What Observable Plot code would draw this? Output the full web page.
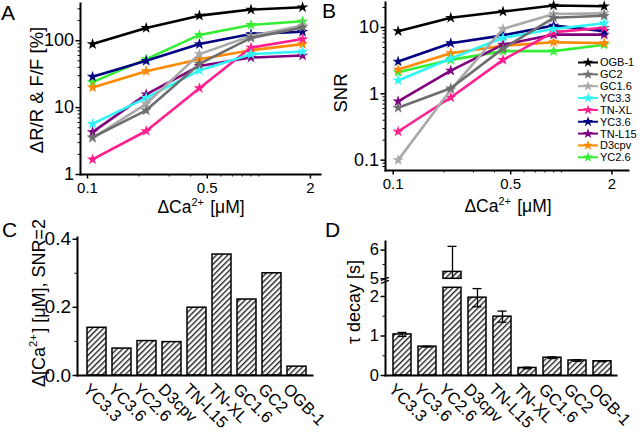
<!DOCTYPE html>
<html><head><meta charset="utf-8">
<script src="https://cdn.jsdelivr.net/npm/d3@7"></script>
<script src="https://cdn.jsdelivr.net/npm/@observablehq/plot@0.6"></script>
<style>
html,body{margin:0;padding:0;background:#fff;}
#fig{position:relative;width:640px;height:432px;overflow:hidden;background:#fff;}
</style></head>
<body>
<svg width="0" height="0" style="position:absolute">
<defs><pattern id="hatch" patternUnits="userSpaceOnUse" width="4" height="4" patternTransform="rotate(45)">
<rect width="4" height="4" fill="#fff"/><line x1="0.7" y1="0" x2="0.7" y2="4" stroke="#111" stroke-width="1.3"/></pattern></defs></svg>
<div id="fig"></div>
<script>
const FONT = "'Liberation Sans', Arial, sans-serif";

// ---------- data ----------
const concentration = [0.107, 0.22, 0.45, 0.9, 1.8];
const indicators = ["OGB-1","GC2","GC1.6","YC3.3","TN-XL","YC3.6","TN-L15","D3cpv","YC2.6"];
const indicatorColors = ["#000000","#6e6e6e","#a9a9a9","#30f4f4","#ff1f8f","#000080","#800080","#ff8a00","#33ee33"];

// Panel A: ΔR/R & F/F [%]
const respOGB1  = [89, 155, 237, 292, 316];
const respGC2   = [3.6, 9.1, 45, 110, 158];
const respGC16  = [3.5, 11.4, 63, 118, 168];
const respYC33  = [5.7, 14, 36, 63, 69];
const respTNXL  = [1.68, 4.47, 19.5, 79, 106];
const respYC36  = [29, 50, 89, 126, 136];
const respTNL15 = [4.3, 15.8, 42, 56, 60];
const respD3cpv = [20, 35, 53, 72, 89];
const respYC26  = [24, 53, 122, 172, 195];

// Panel B: SNR
const snrOGB1  = [8.8, 14, 17.4, 21.4, 20.9];
const snrGC2   = [0.615, 1.21, 4.8, 14, 15];
const snrGC16  = [0.1, 1.15, 9.5, 16, 16.3];
const snrYC33  = [1.59, 3.4, 7.0, 9.5, 11.6];
const snrTNXL  = [0.27, 0.88, 3.25, 8.5, 9.9];
const snrYC36  = [3.07, 5.8, 7.6, 10.7, 8.8];
const snrTNL15 = [0.77, 2.24, 5.5, 7.8, 7.8];
const snrD3cpv = [2.32, 4.1, 5.3, 6.0, 5.8];
const snrYC26  = [2.12, 3.25, 4.4, 4.4, 5.5];

// Panels C and D
const barOrder = ["YC3.3","YC3.6","YC2.6","D3cpv","TN-L15","TN-XL","GC1.6","GC2","OGB-1"];
const detectCa = [0.14, 0.079, 0.101, 0.098, 0.199, 0.355, 0.223, 0.30, 0.026];
const tauDecay = [1.04, 0.73, 5.24, 1.97, 1.49, 0.19, 0.45, 0.38, 0.36];
const tauErr   = [0.05, 0.01, 0.89, 0.23, 0.14, 0.02, 0.02, 0.02, 0.01];

// ticks
const xTicksMajor = [0.1, 0.5, 2];
const xTicksMinor = [0.2, 0.3, 0.4, 0.6, 0.7, 0.8, 0.9, 1];
const yTicksA = [1, 10, 100];
const yMinorA = [2,3,4,5,6,7,8,9,20,30,40,50,60,70,80,90,200,300];
const yTicksB = [0.1, 1, 10];
const yMinorB = [0.08,0.09,0.2,0.3,0.4,0.5,0.6,0.7,0.8,0.9,2,3,4,5,6,7,8,9,20];
const yTicksC = [0, 0.2, 0.4];
const yMinorC = [0.1, 0.3];
const yTicksD = [0, 1, 2, 5, 6];
const yMinorD = [0.5, 1.5, 5.5];
const breakLow = 2.22, breakHigh = 5;

const responseSeries = [respOGB1, respGC2, respGC16, respYC33, respTNXL, respYC36, respTNL15, respD3cpv, respYC26];
const snrSeries = [snrOGB1, snrGC2, snrGC16, snrYC33, snrTNXL, snrYC36, snrTNL15, snrD3cpv, snrYC26];

// ---------- helpers ----------
function seriesMarks(arrays) {
  const marks = [];
  for (let i = indicators.length - 1; i >= 0; i--) {
    const rows = concentration.map((c, j) => ({name: indicators[i], x: c, y: arrays[i][j]}));
    marks.push(Plot.line(rows, {x: "x", y: "y", stroke: indicatorColors[i], strokeWidth: 2.6}));
    marks.push(Plot.dot(rows, {x: "x", y: "y", symbol: "star", fill: indicatorColors[i], r: 3.6}));
  }
  return marks;
}
const fmt = d => String(d);
const blank = () => "";

function place(svg, left, top) {
  svg.style.position = "absolute";
  svg.style.left = left + "px";
  svg.style.top = top + "px";
  svg.style.overflow = "visible";
  svg.style.background = "transparent";
  document.getElementById("fig").appendChild(svg);
}
function addText(svg, {x, y, size, rotate = 0, anchor = "middle", parts}) {
  const g = d3.select(svg).append("g").attr("transform", `translate(${x},${y}) rotate(${rotate})`);
  const t = g.append("text").attr("text-anchor", anchor).attr("font-size", size)
    .attr("font-family", FONT).attr("fill", "black");
  for (const p of parts) {
    if (typeof p === "string") t.append("tspan").text(p);
    else {
      t.append("tspan").attr("dy", -size * 0.42).attr("font-size", size * 0.62).text(p.sup);
      t.append("tspan").attr("dy", size * 0.42).text("\u200A");
    }
  }
  return t;
}
const baseStyle = {fontFamily: FONT, background: "transparent", color: "black", overflow: "visible"};

// ---------- Panel A ----------
const chartA = Plot.plot({
  width: 320, height: 216, marginLeft: 80, marginTop: 3, marginRight: 0, marginBottom: 42,
  style: baseStyle,
  x: {type: "log", domain: [0.091, 2.29]},
  y: {type: "log", domain: [1, 360]},
  marks: [
    Plot.axisY({ticks: yMinorA, tickSize: 2.5, tickFormat: blank, label: null}),
    Plot.axisY({ticks: yTicksA, tickSize: 4.5, tickPadding: 2, tickFormat: fmt, fontSize: 18, label: null, strokeWidth: 1.5}),
    Plot.axisX({ticks: xTicksMinor, tickSize: 2.5, tickFormat: blank, label: null}),
    Plot.axisX({ticks: xTicksMajor, tickSize: 4.5, tickPadding: 3, tickFormat: fmt, fontSize: 15, label: null, strokeWidth: 1.5}),
    Plot.frame({anchor: "left", strokeWidth: 2}),
    Plot.frame({anchor: "bottom", strokeWidth: 2}),
    ...seriesMarks(responseSeries)
  ]
});
place(chartA, 0, 0);
addText(chartA, {x: 1, y: 20, size: 21, anchor: "start", parts: ["A"]});
addText(chartA, {x: 43, y: 90, size: 18.5, rotate: -90, parts: ["ΔR/R & F/F [%]"]});
addText(chartA, {x: 201, y: 213, size: 17.5, parts: ["ΔCa", {sup: "2+"}, " [μM]"]});

// ---------- Panel B ----------
const chartB = Plot.plot({
  width: 320, height: 216, marginLeft: 65, marginTop: 2, marginRight: 12, marginBottom: 46,
  style: baseStyle,
  x: {type: "log", domain: [0.09, 2.51]},
  y: {type: "log", domain: [0.0698, 23.8]},
  marks: [
    Plot.axisY({ticks: yMinorB, tickSize: 2.5, tickFormat: blank, label: null}),
    Plot.axisY({ticks: yTicksB, tickSize: 4.5, tickPadding: 2, tickFormat: fmt, fontSize: 18, label: null, strokeWidth: 1.5}),
    Plot.axisX({ticks: xTicksMinor, tickSize: 2.5, tickFormat: blank, label: null}),
    Plot.axisX({ticks: xTicksMajor, tickSize: 4.5, tickPadding: 3, tickFormat: fmt, fontSize: 15, label: null, strokeWidth: 1.5}),
    Plot.frame({anchor: "left", strokeWidth: 2}),
    Plot.frame({anchor: "bottom", strokeWidth: 2}),
    ...seriesMarks(snrSeries)
  ]
});
place(chartB, 320, 0);
addText(chartB, {x: 2, y: 18, size: 21, anchor: "start", parts: ["B"]});
addText(chartB, {x: 27, y: 93, size: 18.5, rotate: -90, parts: ["SNR"]});
addText(chartB, {x: 188, y: 212, size: 17.5, parts: ["ΔCa", {sup: "2+"}, " [μM]"]});
{
  const g = d3.select(chartB).append("g").attr("font-family", FONT);
  indicators.forEach((name, i) => {
    const y = 62.5 + i * 11.85;
    g.append("line").attr("x1", 258).attr("x2", 278).attr("y1", y).attr("y2", y)
      .attr("stroke", indicatorColors[i]).attr("stroke-width", 2);
    g.append("path").attr("d", d3.symbol(d3.symbolStar, 34)()).attr("transform", `translate(268,${y})`)
      .attr("fill", indicatorColors[i]);
    g.append("text").attr("x", 280).attr("y", y).attr("dy", "0.36em").attr("text-anchor", "start")
      .attr("font-size", 11).text(name);
  });
}

// ---------- Panel C ----------
const rowsC = barOrder.map((k, i) => ({k, v: detectCa[i]}));
const chartC = Plot.plot({
  width: 320, height: 216, marginLeft: 77, marginTop: 21, marginRight: 8, marginBottom: 57,
  style: baseStyle,
  x: {type: "band", domain: barOrder, paddingInner: 0.26, paddingOuter: 0.13, insetLeft: 3},
  y: {domain: [0, 0.405]},
  marks: [
    Plot.barY(rowsC, {x: "k", y: "v", fill: "url(#hatch)", stroke: "black", strokeWidth: 1.5}),
    Plot.axisY({ticks: yMinorC, tickSize: 2.5, tickFormat: blank, label: null}),
    Plot.axisY({ticks: yTicksC, tickSize: 4.5, tickPadding: 2, tickFormat: d => d.toFixed(1), fontSize: 19, label: null, strokeWidth: 1.5}),
    Plot.axisX({tickSize: 0, tickRotate: 45, tickPadding: 11, dx: -11, fontSize: 16.5, label: null}),
    Plot.frame({anchor: "left", strokeWidth: 2}),
    Plot.frame({anchor: "bottom", strokeWidth: 2})
  ]
});
place(chartC, 0, 216);
addText(chartC, {x: 2, y: 21, size: 21, anchor: "start", parts: ["C"]});
addText(chartC, {x: 45, y: 87, size: 18, rotate: -90, parts: ["Δ[Ca", {sup: "2+"}, "] [μM], SNR=2"]});

// ---------- Panel D ----------
const rowsD = barOrder.flatMap((k, i) => tauDecay[i] > breakLow
  ? [{k, y1: 0, y2: breakLow}, {k, y1: breakHigh, y2: tauDecay[i]}]
  : [{k, y1: 0, y2: tauDecay[i]}]);
const errD = barOrder.map((k, i) => ({
  k, v: tauDecay[i], hi: tauDecay[i] + tauErr[i],
  lo: tauDecay[i] > breakLow ? Math.max(tauDecay[i] - tauErr[i], breakHigh) : tauDecay[i] - tauErr[i]
}));
const chartD = Plot.plot({
  width: 320, height: 216, marginLeft: 65, marginTop: 25, marginRight: 24, marginBottom: 57,
  style: baseStyle,
  x: {type: "band", domain: barOrder, paddingInner: 0.27, paddingOuter: 0.135, insetLeft: 4},
  y: {type: "linear", domain: [0, breakLow, breakHigh, 6.3], range: [159, 71.3, 62.3, 25]},
  marks: [
    Plot.barY(rowsD, {x: "k", y1: "y1", y2: "y2", fill: "url(#hatch)", stroke: "black", strokeWidth: 1.5}),
    Plot.ruleX(errD, {x: "k", y1: "lo", y2: "hi", strokeWidth: 1.3}),
    Plot.tickY(errD, {x: "k", y: "hi", strokeWidth: 1.3, insetLeft: 4.5, insetRight: 4.5}),
    Plot.tickY(errD.filter(d => d.v <= breakLow), {x: "k", y: "lo", strokeWidth: 1.3, insetLeft: 4.5, insetRight: 4.5}),
    Plot.axisY({ticks: yMinorD, tickSize: 2.5, tickFormat: blank, label: null}),
    Plot.axisY({ticks: yTicksD, tickSize: 4.5, tickPadding: 2, tickFormat: fmt, fontSize: 16.5, label: null, strokeWidth: 1.5}),
    Plot.axisX({tickSize: 0, tickRotate: 45, tickPadding: 11, dx: -11, fontSize: 16.5, label: null}),
    Plot.frame({anchor: "left", strokeWidth: 2}),
    Plot.frame({anchor: "bottom", strokeWidth: 2})
  ]
});
place(chartD, 320, 216);
addText(chartD, {x: 5, y: 21, size: 21, anchor: "start", parts: ["D"]});
addText(chartD, {x: 40, y: 86, size: 18, rotate: -90, parts: ["τ decay [s]"]});
{
  const yb = chartD.scale("y").apply(breakHigh);
  const g = d3.select(chartD).append("g").attr("stroke", "black").attr("stroke-width", 1.4);
  g.append("line").attr("x1", 61).attr("x2", 69).attr("y1", yb + 2).attr("y2", yb - 1);
  g.append("line").attr("x1", 61).attr("x2", 69).attr("y1", yb + 5).attr("y2", yb + 2);
}
</script>
</body></html>
